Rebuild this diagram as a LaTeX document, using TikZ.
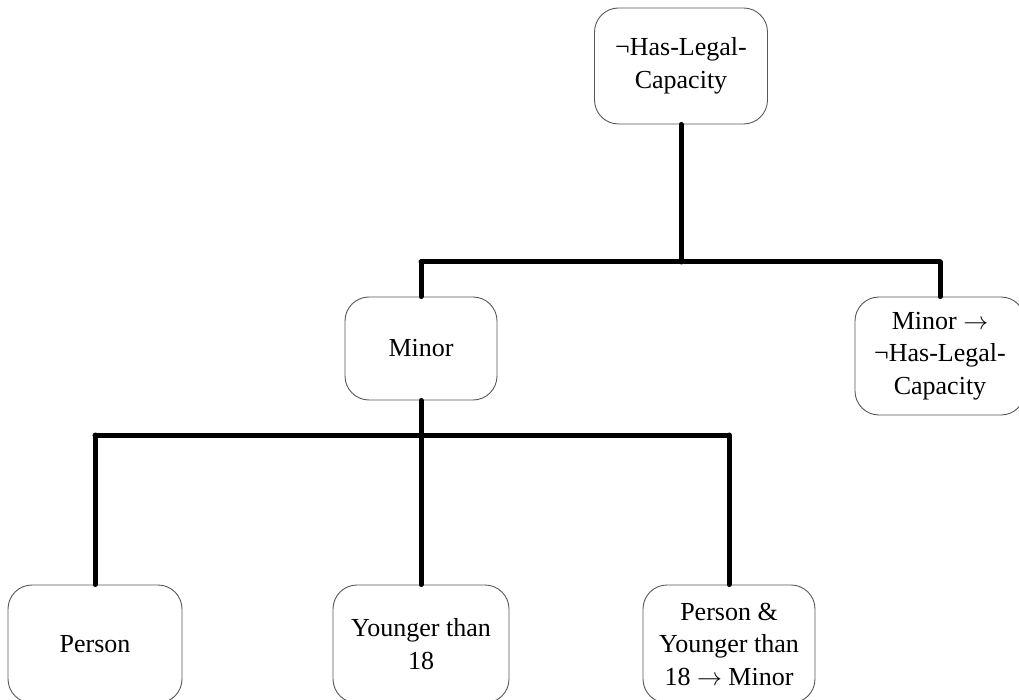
\documentclass[tikz,border=0pt]{standalone}
\usepackage{fontspec}
\setmainfont{Liberation Serif}
\begin{document}
\begin{tikzpicture}[x=1pt,y=-1pt,
  box/.style={draw=black!65, line width=0.9pt, rounded corners=24pt, align=center,
    font=\fontsize{26}{32.5}\selectfont, inner sep=0pt, text=black},
  conn/.style={line width=5pt, line cap=round, black}]
\useasboundingbox (0,0) rectangle (1019,700);
\clip (0,0) rectangle (1019,700);
\node[box, minimum width=173pt, minimum height=116pt] (top) at (681,66) {¬Has-Legal-\\Capacity};
\node[box, minimum width=152pt, minimum height=103pt] (minor) at (421,348.5) {Minor};
\node[box, minimum width=170pt, minimum height=118pt] (rule1) at (940,356) {Minor $\rightarrow$\\¬Has-Legal-\\Capacity};
\node[box, minimum width=174pt, minimum height=118pt] (person) at (95,644) {Person};
\node[box, minimum width=176pt, minimum height=118pt] (younger) at (421,644) {Younger than\\18};
\node[box, minimum width=172pt, minimum height=118pt] (py) at (729,644) {Person \&\\Younger than\\18 $\rightarrow$ Minor};
\coordinate (hA) at (421,262);
\coordinate (hB) at (940,262);
\coordinate (lA) at (95,435);
\coordinate (lB) at (729,435);
\draw[conn] (top.south) -- (top.south |- hA);
\draw[conn] (hA) -- (hB);
\draw[conn] (hA) -- (minor.north);
\draw[conn] (hB) -- (rule1.north);
\draw[conn] (minor.south) -- (younger.north);
\draw[conn] (lA) -- (lB);
\draw[conn] (lA) -- (person.north);
\draw[conn] (lB) -- (py.north);
\end{tikzpicture}
\end{document}
